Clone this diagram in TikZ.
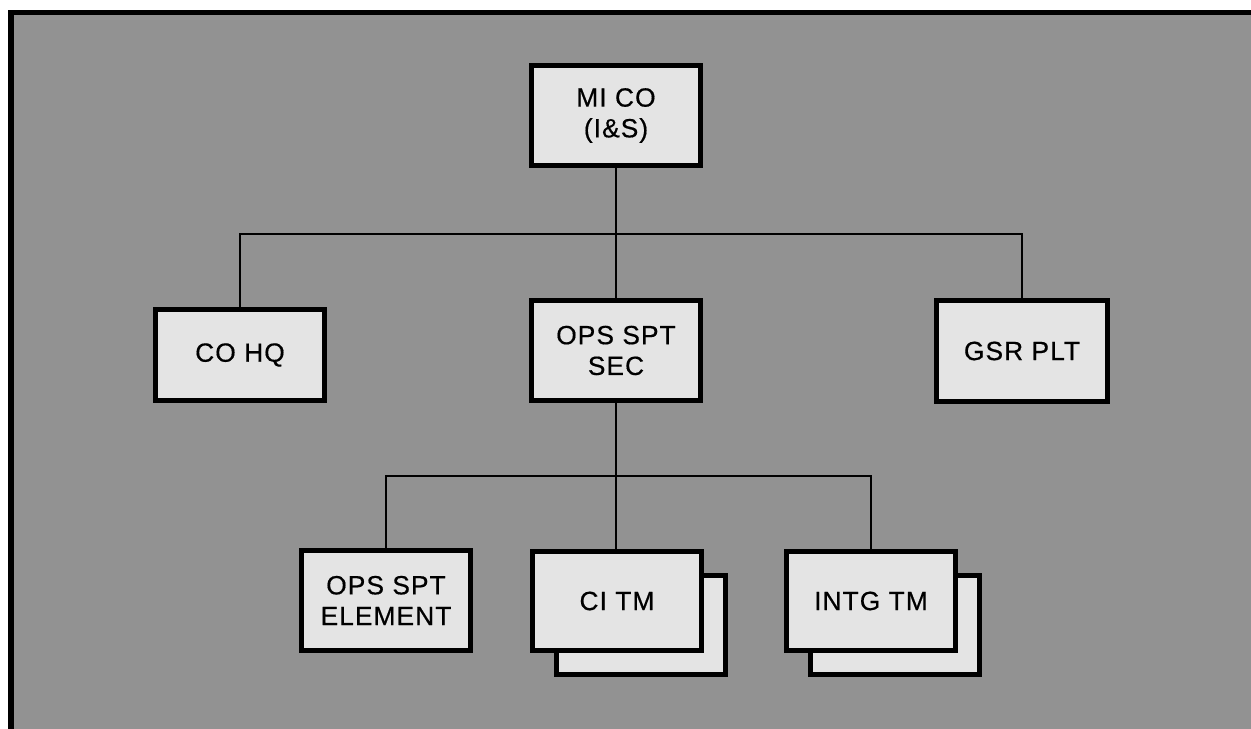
\documentclass[tikz,border=0pt]{standalone}
\usepackage{fontspec}
\setmainfont{Liberation Sans}[LetterSpace=4,FakeBold=0.5]
\usetikzlibrary{shadows}
\definecolor{Fondo}{HTML}{929292}
\definecolor{Caja}{HTML}{E4E4E4}

\begin{document}
\begin{tikzpicture}[x=0.02cm,y=-0.02cm,
  caja/.style={draw=black,line width=0.1cm,fill=Caja,minimum width=3.4cm,
    minimum height=2.0cm,align=center,inner sep=2pt,
    font=\fontsize{15}{17.5}\selectfont},
  doble/.style={copy shadow={shadow xshift=0.48cm,shadow yshift=-0.48cm,
    draw=black,line width=0.1cm,fill=Caja}},
  enlace/.style={line width=0.7pt}]
  \useasboundingbox (0,0) rectangle (1251,729);

  % Marco y fondo tramado.
  \fill[Fondo] (11,12.5) rectangle (1251,729);
  \draw[line width=0.11cm] (11,729) -- (11,12.5) -- (1251,12.5);

  % Cajas de la organizacion.
  \node[caja] (mico) at (616,115.5) {MI CO\\(I\&S)};
  \node[caja,minimum height=1.82cm] (cohq) at (240,355) {CO HQ};
  \node[caja] (opssec) at (616,350.5) {OPS SPT\\SEC};
  \node[caja,minimum width=3.44cm,minimum height=2.02cm] (gsr) at (1022,351) {GSR PLT};
  \node[caja] (opselem) at (386,600.5) {OPS SPT\\ELEMENT};
  \node[caja,doble] (citm) at (617,601) {CI TM};
  \node[caja,doble] (intg) at (871,601) {INTG TM};

  % Lineas de dependencia.
  \coordinate (barra1) at (616,234);
  \coordinate (barra2) at (616,476);
  \draw[enlace] (mico) -- (opssec);
  \draw[enlace] (cohq.north) |- (barra1) -| (gsr.north);
  \draw[enlace] (opssec.south) -- (opssec.south |- citm.north);
  \draw[enlace] (opselem.north) |- (barra2) -| (intg.north);
\end{tikzpicture}
\end{document}
